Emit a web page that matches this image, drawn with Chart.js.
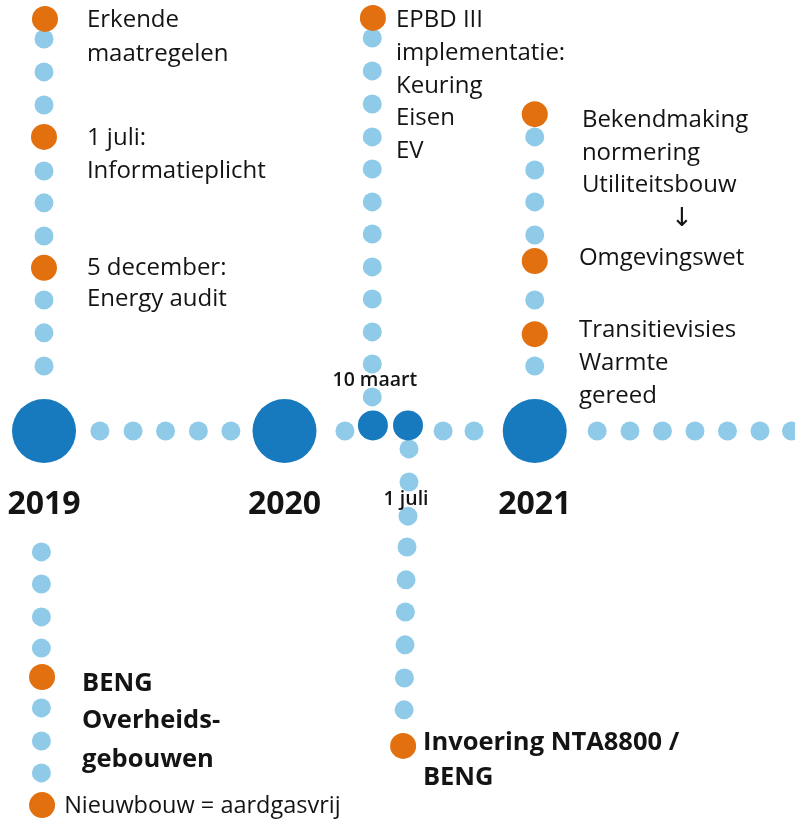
<!DOCTYPE html>
<html>
<head>
<meta charset="utf-8">
<script src="https://cdn.jsdelivr.net/npm/chart.js@4"></script>
<style>
  html, body { margin: 0; padding: 0; background: #fff; }
  canvas { display: block; }
</style>
</head>
<body>
<canvas id="timeline" width="795" height="821"></canvas>
<script>
// positions are in "dot steps": x along the timeline (0 = 2019), y away from it (up = +)
const years = ["2019", "2020", "2021"];
const yearX = [0, 7.4, 15.1];

const dateLabels = ["10 maart", "1 juli"];
const dateX = [10.12, 11.2];
const dateY = [0.17, 0.17];

// small dots on the main line
const lineDotsX = [1.72, 2.74, 3.74, 4.75, 5.75, 9.26, 12.28, 13.23, 17.02, 18.03, 19.03, 20.03, 21.03, 22.03, 23.0];

// vertical branches of small dots
const up2019Y = [12.06, 11.05, 10.03, 8.0, 7.02, 6.0, 4.03, 3.02, 2.0];
const up2019X = 0;
const upMaartY = [12.09, 11.08, 10.06, 9.05, 8.06, 7.05, 6.06, 5.05, 4.06, 3.05, 2.06, 1.05];
const upMaartX = 10.1;
const up2021Y = [9.05, 8.03, 7.05, 6.03, 4.03, 2.0];
const up2021X = 15.1;
const down2019Y = [-3.72, -4.71, -5.72, -6.68, -8.52, -9.54, -10.52];
const down2019X = -0.08;
const downJuliY = [-0.55, -1.57, -2.62, -3.57, -4.58, -5.57, -6.58, -7.6, -8.58];
const downJuliX = [11.23, 11.23, 11.2, 11.17, 11.14, 11.12, 11.11, 11.09, 11.08];

// orange milestones
const milestoneX = [0.03, 0, 0, 10.12, 15.1, 15.1, 15.1, -0.06, -0.06, 11.05];
const milestoneY = [12.68, 9.05, 5.02, 12.71, 9.75, 5.23, 2.98, -7.57, -11.51, -9.69];

// notes
const notes2019 = ["Erkende", "maatregelen", "1 juli:", "Informatieplicht", "5 december:", "Energy audit"];
const notes2019Y = [12.65, 11.6, 9.02, 8.0, 5.02, 4.06];
const notesEpbd = ["EPBD III", "implementatie:", "Keuring", "Eisen", "EV"];
const notesEpbdY = [12.65, 11.63, 10.62, 9.63, 8.62];
const notes2021 = ["Bekendmaking", "normering", "Utiliteitsbouw"];
const notes2021Y = [9.57, 8.55, 7.57];
const notes2021b = ["Omgevingswet", "Transitievisies", "Warmte", "gereed"];
const notes2021bY = [5.32, 3.11, 2.09, 1.08];
const notesBeng = ["BENG", "Overheids-", "gebouwen"];
const notesBengY = [-7.78, -8.92, -10.12];
const notesNta = ["Invoering NTA8800 /", "BENG"];
const notesNtaY = [-9.6, -10.68];

const DARK = "#1779be";
const LIGHT = "#8fcbe8";
const ORANGE = "#e2700f";
const TEXT = "#141414";

const pts = (xs, ys) => ys.map((y, i) => ({ x: Array.isArray(xs) ? xs[i] : xs, y: y }));

const lightDots = [].concat(
  pts(lineDotsX, lineDotsX.map(() => 0)),
  pts(up2019X, up2019Y),
  pts(upMaartX, upMaartY),
  pts(up2021X, up2021Y),
  pts(down2019X, down2019Y),
  pts(downJuliX, downJuliY)
);

// text groups drawn by the plugin below
const noteGroups = [
  { texts: notes2019, ys: notes2019Y, x: 1.32, font: "24px 'Open Sans'", align: "left" },
  { texts: notesEpbd, ys: notesEpbdY, x: 10.83, font: "24px 'Open Sans'", align: "left" },
  { texts: notes2021, ys: notes2021Y, x: 16.55, font: "24px 'Open Sans'", align: "left" },
  { texts: ["\u2193"], ys: [6.52], x: 19.63, font: "26px 'DejaVu Sans'", align: "center" },
  { texts: notes2021b, ys: notes2021bY, x: 16.46, font: "24px 'Open Sans'", align: "left" },
  { texts: notesBeng, ys: notesBengY, x: 1.17, font: "bold 25.5px 'Open Sans'", align: "left" },
  { texts: ["Nieuwbouw = aardgasvrij"], ys: [-11.54], x: 0.62, font: "23.5px 'Open Sans'", align: "left" },
  { texts: notesNta, ys: notesNtaY, x: 11.66, font: "bold 25.5px 'Open Sans'", align: "left" },
  { texts: years, ys: years.map(() => -2.28), xs: yearX, font: "bold 32px 'Open Sans'", align: "center" },
  { texts: [dateLabels[0]], ys: [1.57], x: 10.18, font: "600 19.5px 'Open Sans'", align: "center" },
  { texts: [dateLabels[1]], ys: [-2.12], x: 11.14, font: "600 19.5px 'Open Sans'", align: "center" },
];

const notesPlugin = {
  id: "notes",
  afterDatasetsDraw(chart) {
    const ctx = chart.ctx;
    const sx = chart.scales.x, sy = chart.scales.y;
    ctx.save();
    ctx.fillStyle = TEXT;
    ctx.textBaseline = "middle";
    noteGroups.forEach((g) => {
      ctx.font = g.font;
      ctx.textAlign = g.align;
      g.texts.forEach((t, i) => {
        const xv = g.xs ? g.xs[i] : g.x;
        ctx.fillText(t, sx.getPixelForValue(xv), sy.getPixelForValue(g.ys[i]));
      });
    });
    ctx.restore();
  },
};

new Chart(document.getElementById("timeline"), {
  type: "scatter",
  data: {
    datasets: [
      {
        label: "milestones",
        data: pts(milestoneX, milestoneY),
        backgroundColor: ORANGE,
        pointRadius: 13,
        borderWidth: 0,
        order: 1,
        clip: false,
      },
      {
        label: "dates",
        data: pts(dateX, dateY),
        backgroundColor: DARK,
        pointRadius: 15,
        borderWidth: 0,
        order: 2,
        clip: false,
      },
      {
        label: "years",
        data: pts(yearX, yearX.map(() => 0)),
        backgroundColor: DARK,
        pointRadius: 32,
        borderWidth: 0,
        order: 2,
        clip: false,
      },
      {
        label: "dots",
        data: lightDots,
        backgroundColor: LIGHT,
        pointRadius: 9.5,
        borderWidth: 0,
        order: 3,
        clip: false,
      },
    ],
  },
  options: {
    responsive: false,
    animation: false,
    devicePixelRatio: 1,
    layout: { padding: 0, autoPadding: false },
    plugins: { legend: { display: false }, tooltip: { enabled: false } },
    scales: {
      x: { type: "linear", min: -44 / 32.5, max: 751 / 32.5, display: false },
      y: { type: "linear", min: -390 / 32.5, max: 431 / 32.5, display: false },
    },
  },
  plugins: [notesPlugin],
});
</script>
</body>
</html>
